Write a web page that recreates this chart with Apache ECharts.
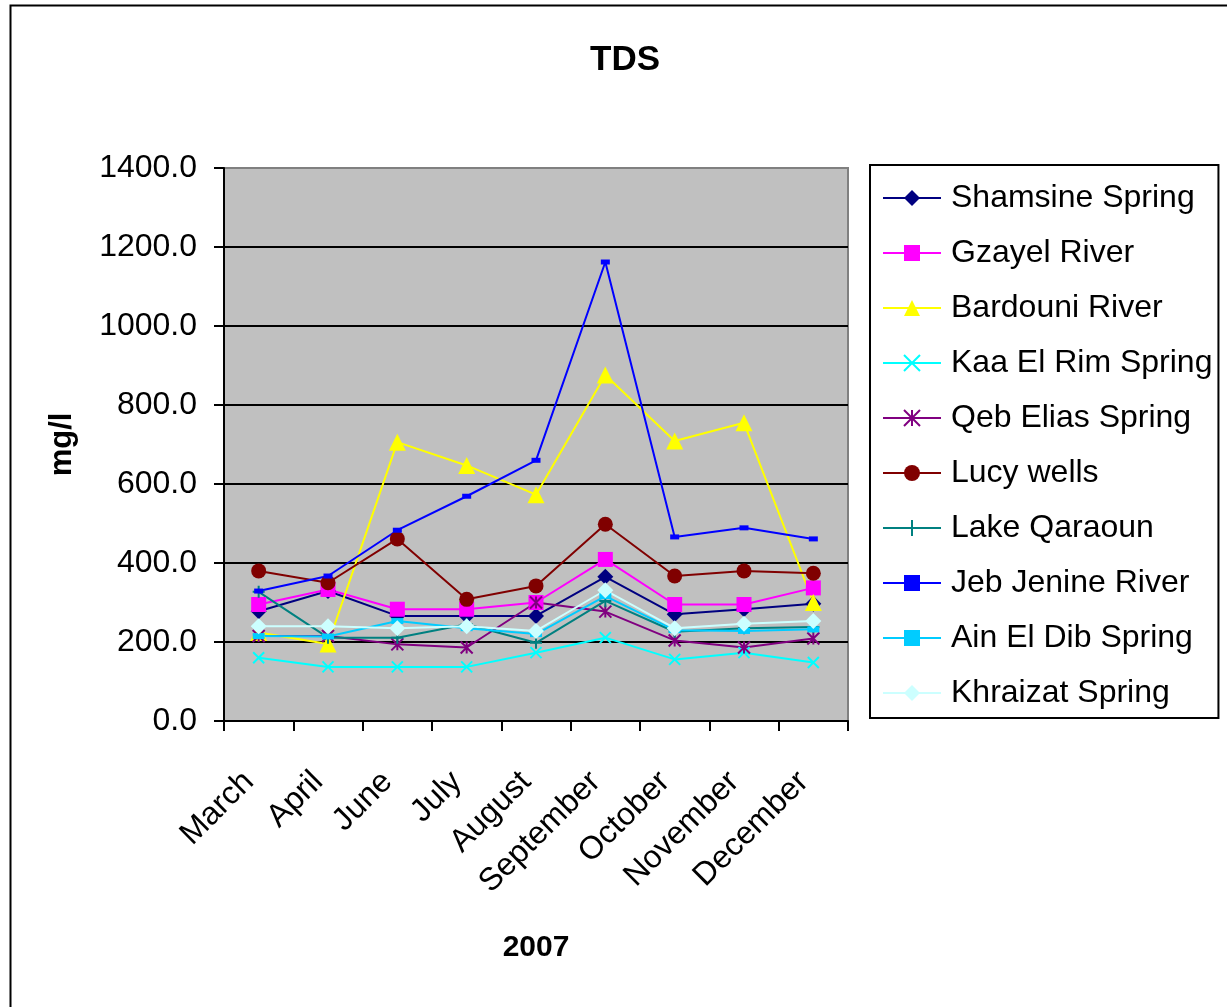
<!DOCTYPE html>
<html>
<head>
<meta charset="utf-8">
<title>TDS</title>
<script src="https://cdn.jsdelivr.net/npm/echarts@6/dist/echarts.min.js"></script>
<style>
  html, body { margin: 0; padding: 0; background: #fff; }
  #chart { width: 1227px; height: 1007px; }
</style>
</head>
<body>
<div id="chart"></div>
<script>
// categories (x axis)
const months = ['March', 'April', 'June', 'July', 'August', 'September', 'October', 'November', 'December'];

// series values, mg/l
const shamsine = [278, 329, 266, 266, 266, 365, 270, 283, 297];
const gzayel = [295, 333, 283, 283, 300, 409, 295, 295, 337];
const bardouni = [224, 195, 706, 647, 573, 876, 709, 755, 300];
const kaaElRim = [160, 137, 137, 137, 173, 211, 156, 173, 148];
const qebElias = [215, 215, 194, 186, 300, 277, 204, 186, 209];
const lucyWells = [380, 350, 461, 308, 342, 498, 367, 380, 374];
const qaraoun = [327, 211, 211, 245, 198, 304, 226, 235, 238];
const jebJenine = [329, 367, 483, 569, 660, 1162, 466, 489, 461];
const ainElDib = [215, 214, 253, 235, 220, 316, 230, 228, 232];
const khraizat = [240, 240, 235, 240, 228, 331, 235, 246, 253];

// y axis ticks
const yMin = 0;
const yMax = 1400;
const yStep = 200;

const FONT = '"Liberation Sans", Arial, sans-serif';

// marker shapes that are only strokes
const crossPath = 'path://M0,0 L10,10 M10,0 L0,10';
const starPath = 'path://M5,0 L5,10 M0,0 L10,10 M10,0 L0,10';
const plusPath = 'path://M5,0 L5,10 M0,5 L10,5';

function makeSeries(name, data, color, symbol, size, stroked) {
  return {
    name: name,
    type: 'line',
    data: data,
    symbol: symbol,
    symbolSize: size,
    lineStyle: {color: color, width: 2},
    itemStyle: stroked
      ? {color: color, borderColor: color, borderWidth: 2}
      : {color: color, borderWidth: 0},
    emphasis: {disabled: true},
    animation: false
  };
}

const chart = echarts.init(document.getElementById('chart'));

// split line colours: black inside, top one hidden in grey border
const splitColors = [];
for (let v = yMin; v <= yMax; v += yStep) {
  splitColors.push(v === yMax ? '#808080' : '#000000');
}

const option = {
  backgroundColor: '#ffffff',
  textStyle: {fontFamily: FONT},
  title: {
    text: 'TDS',
    left: 585,
    top: 38,
    textStyle: {fontFamily: FONT, fontSize: 35, fontWeight: 'bold', color: '#000'}
  },
  legend: {
    orient: 'vertical',
    left: 870,
    top: 165,
    padding: [17, 6, 9, 12],
    borderColor: '#000',
    borderWidth: 2,
    itemWidth: 58,
    itemHeight: 20,
    itemGap: 23,
    textStyle: {fontFamily: FONT, fontSize: 32, color: '#000', lineHeight: 32, padding: [0, 0, 0, 5]},
    data: ['Shamsine Spring', 'Gzayel River', 'Bardouni River', 'Kaa El Rim Spring', 'Qeb Elias Spring',
      'Lucy wells', 'Lake Qaraoun', 'Jeb Jenine River', 'Ain El Dib Spring', 'Khraizat Spring']
  },
  grid: {
    left: 224,
    top: 168,
    right: 379,
    bottom: 286,
    show: true,
    backgroundColor: '#C0C0C0',
    borderColor: '#808080',
    borderWidth: 2
  },
  xAxis: {
    type: 'category',
    data: months,
    boundaryGap: true,
    name: '2007',
    nameLocation: 'middle',
    nameGap: 212,
    nameTextStyle: {fontFamily: FONT, fontSize: 30, fontWeight: 'bold', color: '#000', verticalAlign: 'top'},
    axisLine: {lineStyle: {color: '#000', width: 2}},
    axisTick: {show: true, length: 10, lineStyle: {color: '#000', width: 2}, alignWithLabel: false},
    axisLabel: {
      rotate: 45,
      interval: 0,
      margin: 46,
      padding: [0, 14, 0, 0],
      fontFamily: FONT,
      fontSize: 32,
      color: '#000'
    }
  },
  yAxis: {
    type: 'value',
    min: yMin,
    max: yMax,
    interval: yStep,
    name: 'mg/l',
    nameLocation: 'middle',
    nameRotate: 90,
    nameGap: 146,
    nameTextStyle: {fontFamily: FONT, fontSize: 31, fontWeight: 'bold', color: '#000'},
    axisLine: {show: true, lineStyle: {color: '#000', width: 2}},
    axisTick: {show: true, length: 10, lineStyle: {color: '#000', width: 2}},
    axisLabel: {
      margin: 27,
      fontFamily: FONT,
      fontSize: 32,
      color: '#000',
      formatter: (v) => v.toFixed(1)
    },
    splitLine: {show: true, lineStyle: {color: splitColors, width: 2}}
  },
  graphic: [
    // outer frame of the chart (only left and top edges are inside the picture)
    {
      type: 'rect',
      left: 8,
      top: 3,
      shape: {x: 0, y: 0, width: 1240, height: 1030},
      style: {fill: 'none', stroke: '#000', lineWidth: 2},
      silent: true
    }
  ],
  series: [
    makeSeries('Shamsine Spring', shamsine, '#000080', 'diamond', 16, false),
    makeSeries('Gzayel River', gzayel, '#FF00FF', 'rect', 15, false),
    makeSeries('Bardouni River', bardouni, '#FFFF00', 'triangle', 17, false),
    makeSeries('Kaa El Rim Spring', kaaElRim, '#00FFFF', crossPath, 11, true),
    makeSeries('Qeb Elias Spring', qebElias, '#800080', starPath, 12, true),
    makeSeries('Lucy wells', lucyWells, '#800000', 'circle', 15, false),
    makeSeries('Lake Qaraoun', qaraoun, '#008080', plusPath, 12, true),
    makeSeries('Jeb Jenine River', jebJenine, '#0000FF', 'rect', [9, 5], false),
    makeSeries('Ain El Dib Spring', ainElDib, '#00CCFF', 'rect', [12, 6], false),
    makeSeries('Khraizat Spring', khraizat, '#CCFFFF', 'diamond', 16, false)
  ]
};

chart.setOption(option);
</script>
</body>
</html>
